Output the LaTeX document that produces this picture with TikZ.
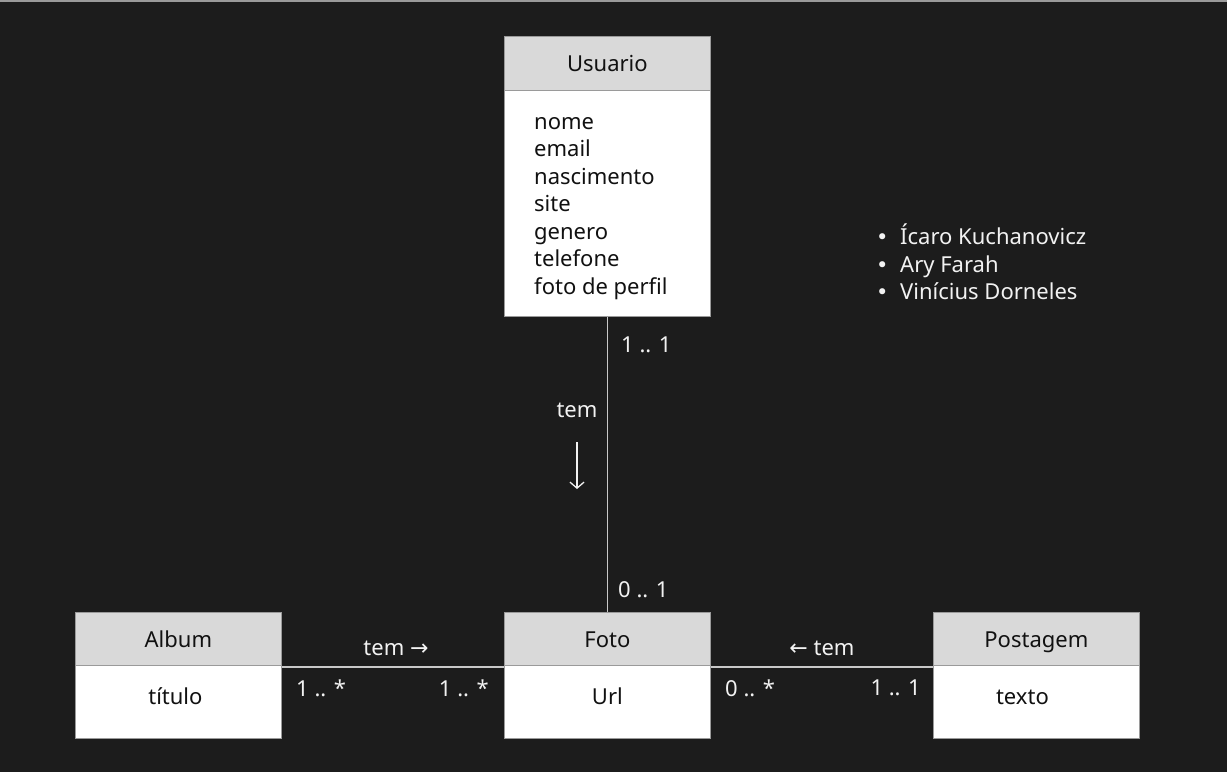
\documentclass[tikz,border=0pt]{standalone}
\usepackage{fontspec}
\setmainfont{Noto Sans}
\newfontfamily\symfont{DejaVu Sans}
\newcommand\myarrfont{\symfont\fontsize{22}{22}\selectfont}
\newcommand\mybullet{\makebox[24pt][l]{\symfont\fontsize{21}{21}\selectfont•}}
\usetikzlibrary{arrows.meta}
\definecolor{bg}{HTML}{1C1C1C}
\definecolor{hdr}{HTML}{D9D9D9}
\definecolor{edge}{HTML}{9A9A9A}
\definecolor{wire}{HTML}{C8C8C8}
\definecolor{ink}{HTML}{111111}
\definecolor{lbl}{HTML}{F2F2F2}
\begin{document}
\begin{tikzpicture}[x=1pt,y=-1pt,
  font=\fontsize{22}{27.5}\selectfont,
  hbox/.style={draw=edge,line width=0.8pt,fill=hdr,anchor=north west,minimum width=206pt,minimum height=54pt,inner sep=0pt,text=ink},
  bbox/.style={draw=edge,line width=0.8pt,fill=white,anchor=north west,minimum width=206pt,inner sep=0pt,text=ink},
  title/.style={text=ink,anchor=base,inner sep=0pt},
  wireline/.style={draw=wire,line width=1.4pt},
  mult/.style={text=lbl,inner sep=0pt},
]
\useasboundingbox (0,0) rectangle (1227,772);
\fill[bg] (0,0) rectangle (1227,772);
\draw[edge,line width=1.5pt] (0,0.75) -- (1227,0.75);

% Usuario
\node[hbox] (usuh) at (504,36) {};
\node[title] at ([yshift=-8pt]usuh.center) {Usuario};
\node[bbox,minimum height=226pt] (usub) at (504,90) {};
\node[text=ink,anchor=north west,align=left,inner sep=0pt] (usuattr) at (534,117)
 {nome\\email\\nascimento\\site\\genero\\telefone\\foto de perfil};

% Foto
\node[hbox] (fotoh) at (504,612) {};
\node[title] at ([yshift=-8pt]fotoh.center) {Foto};
\node[bbox,minimum height=73pt] (fotob) at (504,665) {};
\node[title] at ([yshift=-3pt]fotob.center) {Url};

% Album
\node[hbox] (albh) at (75,612) {};
\node[title] at ([yshift=-8pt]albh.center) {Album};
\node[bbox,minimum height=73pt] (albb) at (75,665) {};
\node[title] at ([xshift=-3pt,yshift=-3pt]albb.center) {título};

% Postagem
\node[hbox] (posh) at (933,612) {};
\node[title] at ([yshift=-8pt]posh.center) {Postagem};
\node[bbox,minimum height=73pt] (posb) at (933,665) {};
\node[title] at ([xshift=-14pt,yshift=-3pt]posb.center) {texto};

% connectors
\draw[wireline] (usub.south) -- (fotoh.north);
\draw[wireline] (albh.south east) -- (fotoh.south west);
\draw[wireline] (fotoh.south east) -- (posh.south west);

% labels
\node[mult,anchor=west] (m1) at (621,345) {1 .. 1};
\node[mult] (tem1) at (577,410) {tem};
\coordinate (arrA) at (577,442);
\coordinate (arrB) at (577,489);
\draw[lbl,line width=1.3pt,-{Straight Barb[length=6pt,width=14pt]}] (arrA) -- (arrB);
\node[mult,anchor=west] (m2) at (618,590) {0 .. 1};

\node[mult] (tem2) at (396,648) {tem {\myarrfont →}};
\node[mult,anchor=west] (m3) at (296,688) {1 .. *};
\node[mult,anchor=east] (m4) at (489,688) {1 .. *};

\node[mult] (tem3) at (822,648) {{\myarrfont ←} tem};
\node[mult,anchor=west] (m5) at (725,688) {0 .. *};
\node[mult,anchor=east] (m6) at (921,688) {1 .. 1};

% authors
\node[text=lbl,anchor=north west,align=left,inner sep=0pt] (authors) at (876,224)
 {\mybullet Ícaro Kuchanovicz\\
  \mybullet Ary Farah\\
  \mybullet Vinícius Dorneles};
\end{tikzpicture}
\end{document}
